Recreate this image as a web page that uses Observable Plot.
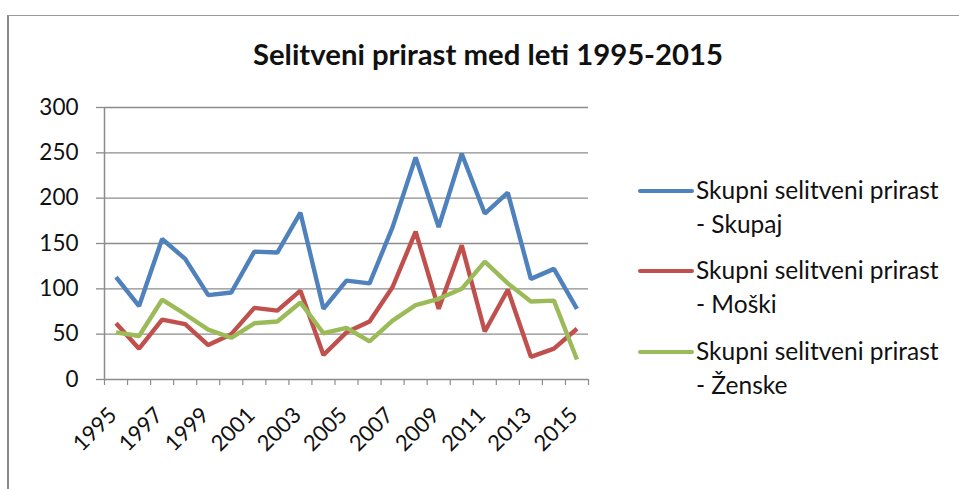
<!DOCTYPE html>
<html>
<head>
<meta charset="utf-8">
<script src="https://cdn.jsdelivr.net/npm/d3@7"></script>
<script src="https://cdn.jsdelivr.net/npm/@observablehq/plot@0.6"></script>
<style>
  html, body { margin: 0; padding: 0; background: #fff; }
  #wrap { position: relative; width: 959px; height: 489px; overflow: hidden; font-family: Lato, "Open Sans", sans-serif; color: #111; }
  #frame { position: absolute; left: 7px; top: 15px; right: -5px; bottom: -5px; border-top: 1px solid #9a9a9a; border-left: 2px solid #8a8a8a; }
  #title { position: absolute; left: 0; width: 976px; top: 36px; text-align: center; font-weight: 700; font-size: 29.3px; line-height: 36px; }
  #chart { position: absolute; left: 0; top: 0; }
  #legend { position: absolute; left: 638px; top: 0; font-size: 24.5px; }
  .item { position: absolute; left: 0; white-space: nowrap; }
  .sw { position: absolute; left: 0; width: 56px; height: 4px; border-radius: 2px; }
  .lbl { position: absolute; left: 58px; line-height: 34px; }
</style>
</head>
<body>
<div id="wrap">
  <div id="frame"></div>
  <div id="chart"></div>
  <div id="title"></div>
  <div id="legend"></div>
</div>
<script>
const title = "Selitveni prirast med leti 1995-2015";
const years = [1995,1996,1997,1998,1999,2000,2001,2002,2003,2004,2005,2006,2007,2008,2009,2010,2011,2012,2013,2014,2015];
const yearLabels = [1995,1997,1999,2001,2003,2005,2007,2009,2011,2013,2015];
const yTicks = [0,50,100,150,200,250,300];
const seriesNames = ["Skupni selitveni prirast - Skupaj", "Skupni selitveni prirast - Moški", "Skupni selitveni prirast - Ženske"];
const seriesColors = ["#4F81BD", "#C0504D", "#9BBB59"];
const skupaj = [113, 81, 155, 133, 93, 96, 141, 140, 184, 78, 109, 106, 168, 245, 168, 249, 183, 206, 111, 122, 78];
const moski  = [62, 34, 66, 61, 38, 50, 79, 76, 98, 27, 52, 64, 102, 163, 78, 148, 53, 99, 25, 34, 56];
const zenske = [52, 48, 88, 72, 55, 46, 62, 64, 85, 51, 57, 42, 65, 82, 89, 100, 130, 106, 86, 87, 22];

const seriesValues = [skupaj, moski, zenske];
const data = seriesValues.flatMap((vals, s) => vals.map((v, i) => ({year: years[i], value: v, series: seriesNames[s]})));
const bounds = [...years.map(y => y - 0.5), years[years.length - 1] + 0.5];

document.getElementById("title").textContent = title;

const grid = "#8c8c8c";
const chart = Plot.plot({
  width: 959,
  height: 489,
  marginLeft: 104,
  marginRight: 371,
  marginTop: 107,
  marginBottom: 110,
  style: {fontFamily: "Lato, sans-serif", fontSize: "21px", color: "#111", background: "transparent"},
  x: {type: "linear", domain: [bounds[0], bounds[bounds.length - 1]]},
  y: {domain: [0, 300]},
  color: {domain: seriesNames, range: seriesColors},
  marks: [
    Plot.gridY(yTicks.filter(d => d > 0), {stroke: grid, strokeOpacity: 1, strokeWidth: 1.3}),
    Plot.axisY(yTicks, {tickSize: 8, tickPadding: 18, stroke: grid, strokeWidth: 1.3, fill: "#111", label: null, fontSize: 22.5}),
    Plot.ruleX([bounds[0]], {stroke: grid, strokeWidth: 1.5}),
    Plot.ruleY([0], {stroke: grid, strokeWidth: 1.5}),
    Plot.axisX(bounds, {tickSize: 6, tickFormat: () => "", stroke: grid, strokeWidth: 1.2, label: null}),
    Plot.text(yearLabels, {x: d => d, text: d => String(d), frameAnchor: "bottom", dy: 37, dx: 2, rotate: -45, textAnchor: "end", fontSize: 22, fill: "#111"}),
    Plot.line(data, {x: "year", y: "value", z: "series", stroke: "series", strokeWidth: 4.4, strokeLinejoin: "miter", strokeLinecap: "butt"})
  ]
});
document.getElementById("chart").appendChild(chart);

// legend
const legend = document.getElementById("legend");
const itemTops = [191, 271, 352];
seriesNames.forEach((name, i) => {
  const [a, b] = name.split(" - ");
  const item = document.createElement("div");
  item.className = "item";
  item.style.top = itemTops[i] + "px";
  const sw = document.createElement("div");
  sw.className = "sw";
  sw.style.background = seriesColors[i];
  sw.style.top = "-2px";
  const l1 = document.createElement("div");
  l1.className = "lbl";
  l1.style.top = "-18px";
  l1.textContent = a;
  const l2 = document.createElement("div");
  l2.className = "lbl";
  l2.style.top = "16px";
  l2.textContent = "- " + b;
  item.append(sw, l1, l2);
  legend.appendChild(item);
});
</script>
</body>
</html>
